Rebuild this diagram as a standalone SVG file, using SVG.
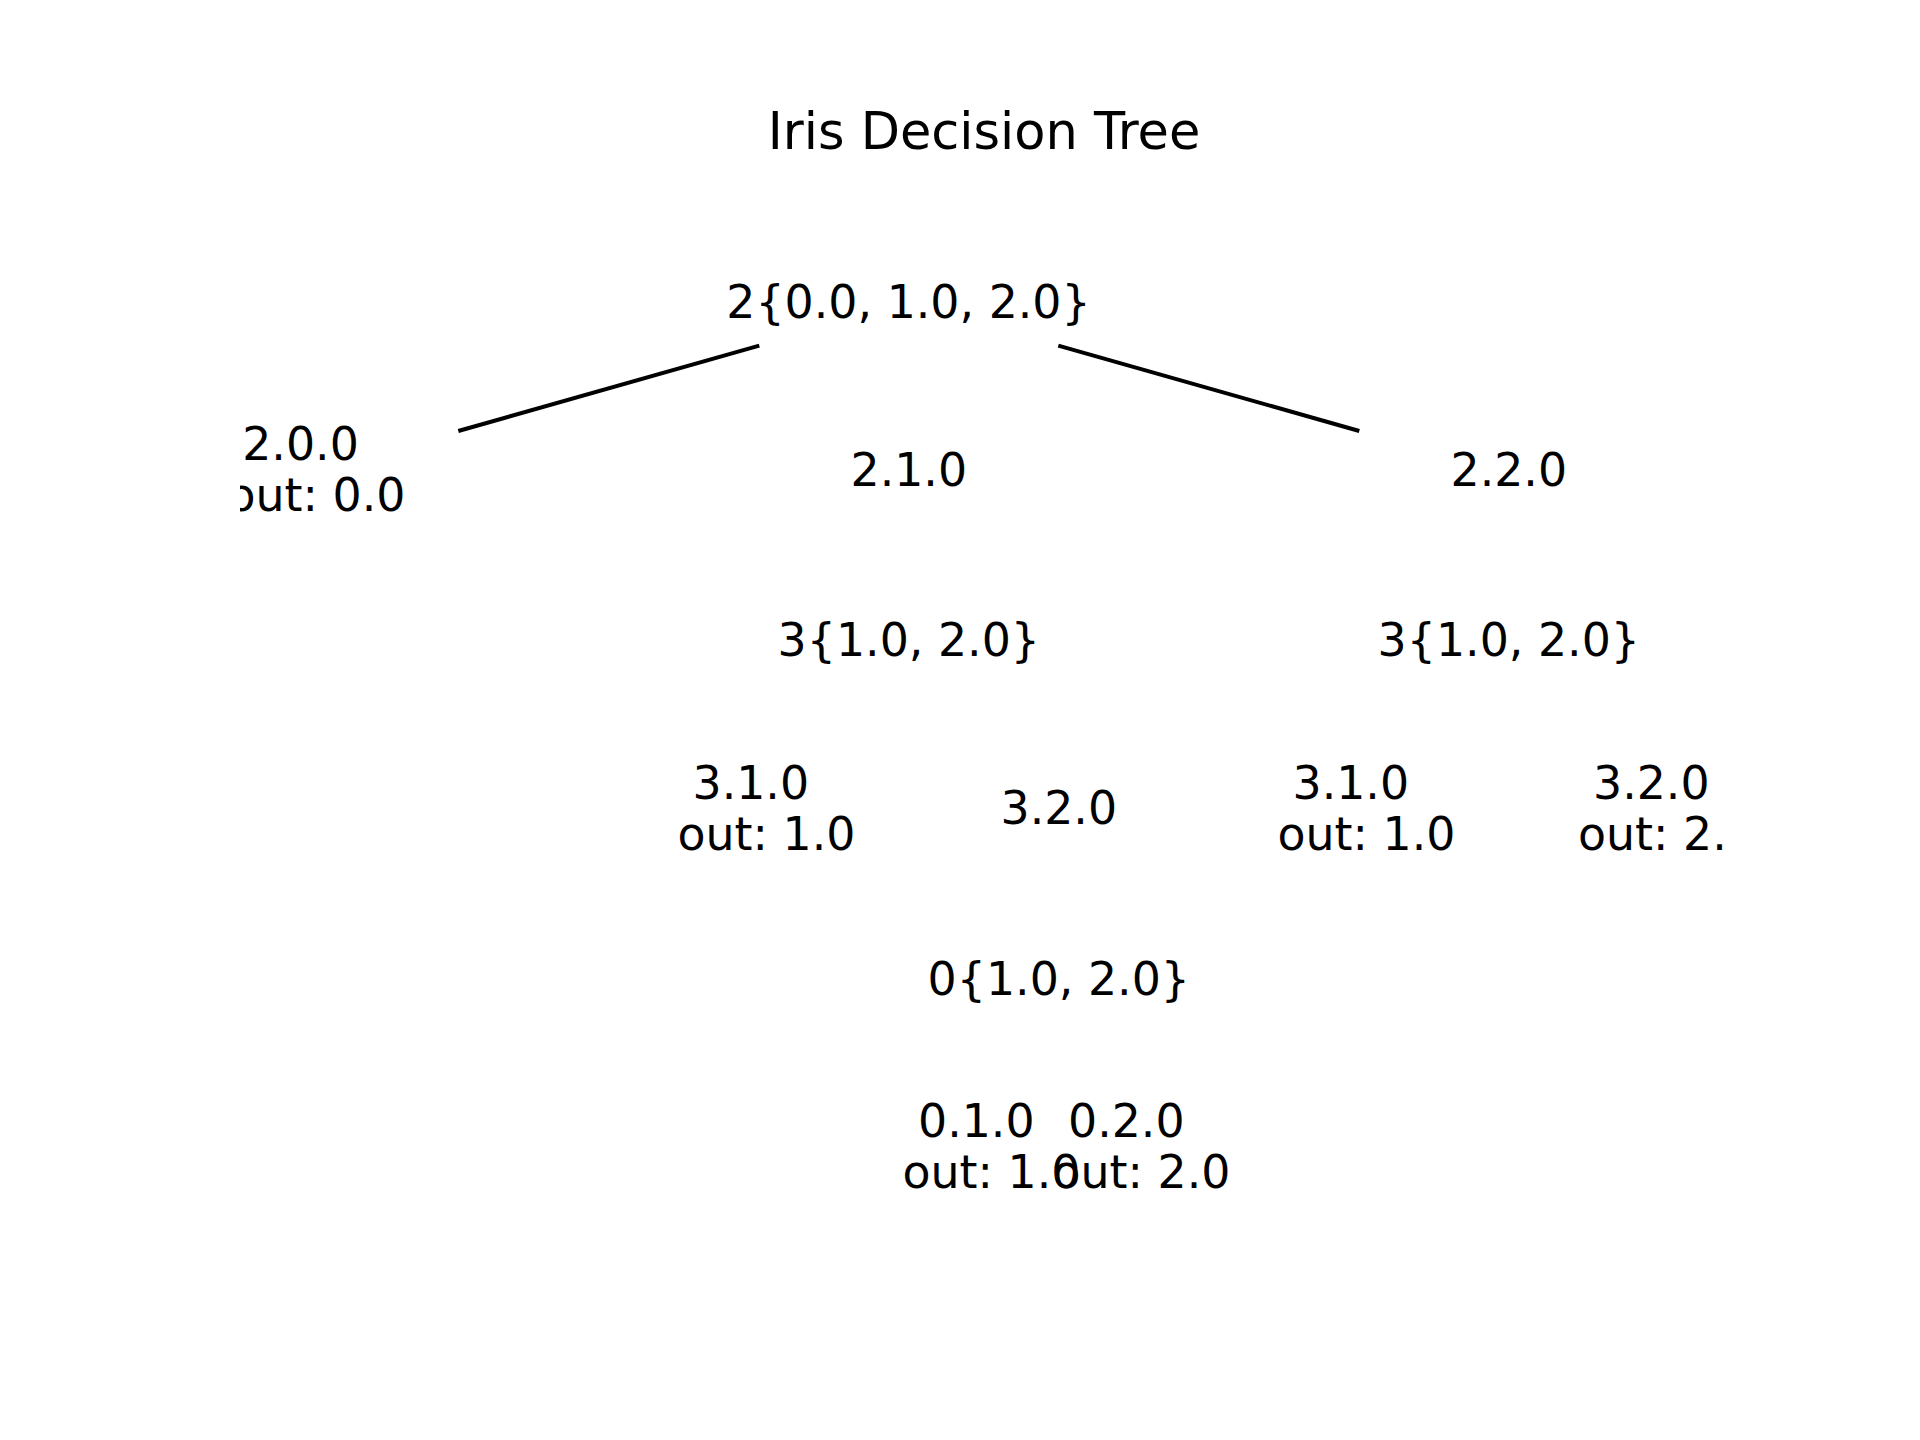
<svg xmlns="http://www.w3.org/2000/svg" width="1920" height="1440" viewBox="0 0 1920 1440">
  <style>
    text { font-family: "DejaVu Sans", "Liberation Sans", sans-serif; fill: #000000; text-anchor: middle; }
    .node { font-size: 45.83px; }
    .title { font-size: 51px; }
    .edge { stroke: #000000; stroke-width: 4; stroke-linecap: butt; fill: none; }
  </style>
  <defs>
    <clipPath id="axes">
      <rect x="240" y="172.8" width="1488" height="1108.8"/>
    </clipPath>
  </defs>
  <rect x="0" y="0" width="1920" height="1440" fill="#ffffff"/>
  <text class="title" x="984" y="149">Iris Decision Tree</text>
  <g clip-path="url(#axes)">
    <g id="connectors">
      <line class="edge" x1="759.3" y1="345.7" x2="458.3" y2="431"/>
      <line class="edge" x1="1058.3" y1="345.7" x2="1359.3" y2="431"/>
    </g>
    <g id="node-root" class="node">
      <text x="908.5" y="317.5">2{0.0, 1.0, 2.0}</text>
    </g>
    <g id="node-2-0-0" class="node">
      <text x="300.5" y="459.5">2.0.0</text>
      <text x="316.5" y="511.3">out: 0.0</text>
    </g>
    <g id="node-2-1-0" class="node">
      <text x="908.8" y="486">2.1.0</text>
    </g>
    <g id="node-2-2-0" class="node">
      <text x="1508.8" y="486">2.2.0</text>
    </g>
    <g id="node-3-a" class="node">
      <text x="908.8" y="655.5">3{1.0, 2.0}</text>
    </g>
    <g id="node-3-b" class="node">
      <text x="1508.8" y="655.5">3{1.0, 2.0}</text>
    </g>
    <g id="node-3-1-0-a" class="node">
      <text x="750.8" y="798.5">3.1.0</text>
      <text x="766.5" y="850.3">out: 1.0</text>
    </g>
    <g id="node-3-2-0-a" class="node">
      <text x="1058.8" y="824">3.2.0</text>
    </g>
    <g id="node-3-1-0-b" class="node">
      <text x="1350.8" y="798.5">3.1.0</text>
      <text x="1366.5" y="850.3">out: 1.0</text>
    </g>
    <g id="node-3-2-0-b" class="node">
      <text x="1651.3" y="798.5">3.2.0</text>
      <text x="1667" y="850.3">out: 2.0</text>
    </g>
    <g id="node-0" class="node">
      <text x="1058.8" y="994.5">0{1.0, 2.0}</text>
    </g>
    <g id="node-0-1-0" class="node">
      <text x="976.3" y="1136.5">0.1.0</text>
      <text x="991.5" y="1188.2">out: 1.0</text>
    </g>
    <g id="node-0-2-0" class="node">
      <text x="1126.3" y="1136.5">0.2.0</text>
      <text x="1141.5" y="1188.2">out: 2.0</text>
    </g>
  </g>
</svg>
